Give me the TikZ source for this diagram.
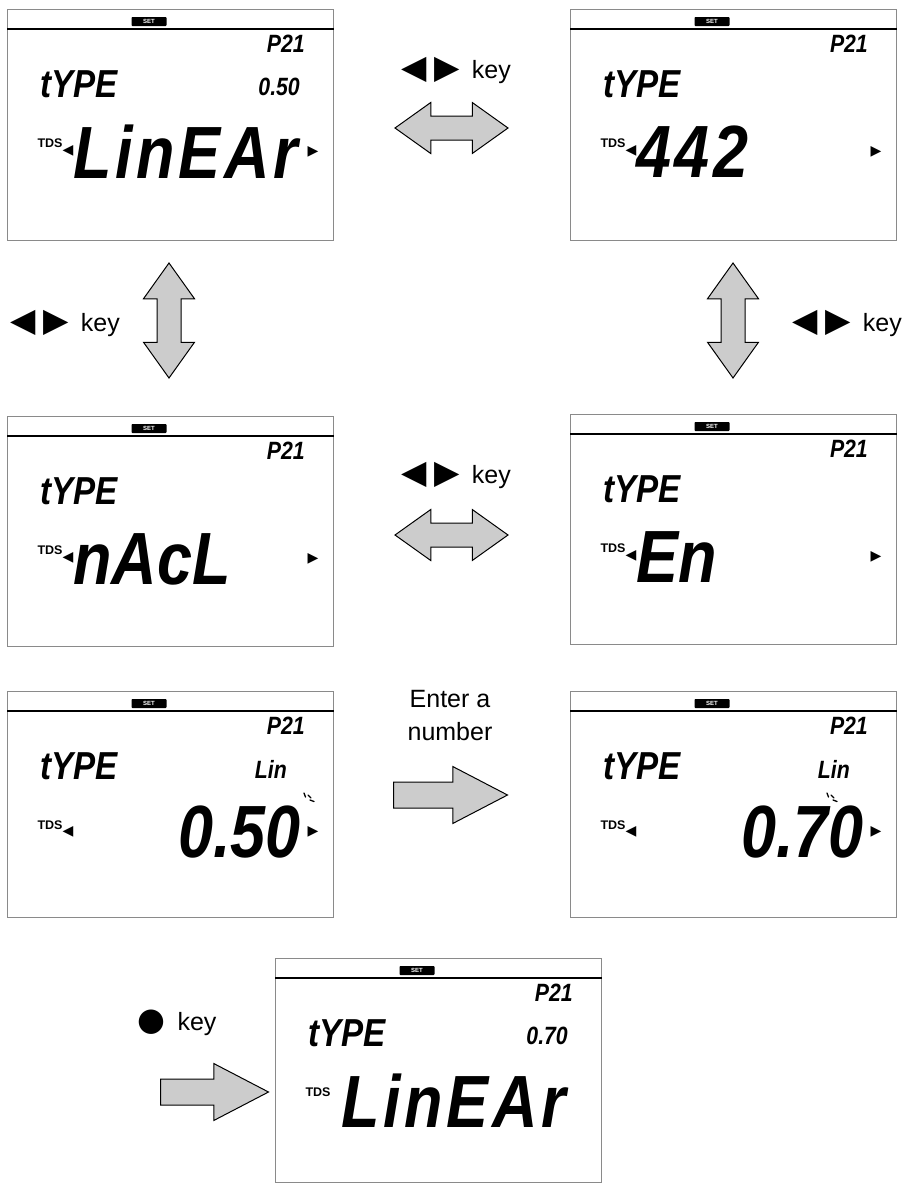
\documentclass[tikz,border=0pt]{standalone}
\usepackage{fontspec}
\setmainfont{Liberation Sans}
\newfontfamily\lcdfont[FakeStretch=0.85]{Liberation Sans}
\newfontfamily\symfont{DejaVu Sans}
\usetikzlibrary{shapes.arrows,positioning,calc}
\definecolor{scrframe}{HTML}{8A8A8A}
\definecolor{arrowgray}{HTML}{CCCCCC}
\tikzset{
  screen/.style={rectangle,draw=scrframe,line width=1pt,minimum width=326pt,
                 inner sep=0pt,anchor=north west},
  setbox/.style={rectangle,rounded corners=0.8pt,fill=black,text=white,minimum width=35pt,
                 minimum height=9pt,inner sep=0pt,font=\fontsize{6}{6}\selectfont\bfseries},
  sepline/.style={line width=1.6pt,draw=black},
  lcdbig/.style={inner sep=0pt,font=\lcdfont\fontsize{74}{74}\selectfont\bfseries\itshape},
  lcdmid/.style={inner sep=0pt,font=\lcdfont\fontsize{39}{39}\selectfont\bfseries\itshape},
  lcdsmall/.style={inner sep=0pt,font=\lcdfont\fontsize{25}{25}\selectfont\bfseries\itshape},
  tds/.style={inner sep=0pt,font=\fontsize{12.5}{12.5}\selectfont\bfseries},
  ind/.style={inner sep=0pt,font=\symfont\fontsize{14}{14}\selectfont},
  blink/.style={line width=1.3pt,line cap=round},
  dblarrow/.style={double arrow,draw=black,fill=arrowgray,line width=1pt,inner xsep=0pt,
                   inner ysep=11.5pt,double arrow head extend=13.5pt,double arrow tip angle=71,
                   minimum height=113pt},
  fwdarrow/.style={single arrow,draw=black,fill=arrowgray,line width=1pt,inner xsep=0pt,
                   inner ysep=12.5pt,single arrow head extend=15.5pt,single arrow tip angle=55,
                   minimum height=114pt,anchor=tail},
  keylabel/.style={inner sep=0pt,align=center,font=\fontsize{25}{33}\selectfont},
}
% left/right keys and the measure key
\newcommand{\lrkeys}{{\symfont\fontsize{33}{33}\selectfont ◀\hspace{8pt}▶}}
\newcommand{\okkey}{{\symfont\fontsize{32}{32}\selectfont ●}}
% display frame: SET, P21, tYPE, TDS
\newcommand{\lcdframe}[3]{%
  \node[screen,minimum height=#3] (#1) at (#2) {};
  \node[setbox] (#1-set) at ($(#1.north west)+(142,12.5)$) {SET};
  \draw[sepline] ($(#1.north west)+(0,20)$) -- ($(#1.north east)+(0,20)$);
  \node[lcdsmall,anchor=east] (#1-prm) at ($(#1.north west)+(298,35)$) {P21};
  \node[lcdmid,anchor=west] (#1-type) at ($(#1.north west)+(33,75)$) {tYPE};
  \node[tds] (#1-tds) at ($(#1.north west)+(43,134)$) {TDS};
}

\begin{document}
\begin{tikzpicture}[x=1pt,y=-1pt]
  \useasboundingbox[fill=white] (0,0) rectangle (910,1183);

  % row 1
  \lcdframe{s1}{7,9}{231pt}
  \node[ind] (s1-l) at ($(s1.north west)+(61,142)$) {◀};
  \node[lcdbig,anchor=west] (s1-val) at ($(s1.north west)+(66,143)$)
    {\addfontfeature{LetterSpace=5}LinEAr};
  \node[lcdsmall,anchor=east] (s1-fac) at ($(s1.north west)+(293,78)$) {0.50};
  \node[ind] (s1-r) at ($(s1.north west)+(306,143)$) {▶};

  \lcdframe{s2}{570,9}{231pt}
  \node[ind] (s2-l) at ($(s2.north west)+(61,142)$) {◀};
  \node[lcdbig,anchor=west] (s2-val) at ($(s2.north west)+(66,143)$)
    {\addfontfeature{LetterSpace=5}442};
  \node[ind] (s2-r) at ($(s2.north west)+(306,143)$) {▶};

  % row 2
  \lcdframe{s3}{7,416}{230pt}
  \node[ind] (s3-l) at ($(s3.north west)+(61,142)$) {◀};
  \node[lcdbig,anchor=west] (s3-val) at ($(s3.north west)+(66,143)$) {nAcL};
  \node[ind] (s3-r) at ($(s3.north west)+(306,143)$) {▶};

  \lcdframe{s4}{570,414}{230pt}
  \node[ind] (s4-l) at ($(s4.north west)+(61,142)$) {◀};
  \node[lcdbig,anchor=west] (s4-val) at ($(s4.north west)+(66,143)$) {En};
  \node[ind] (s4-r) at ($(s4.north west)+(306,143)$) {▶};

  % row 3
  \lcdframe{s5}{7,691}{226pt}
  \node[ind] (s5-l) at ($(s5.north west)+(61,141)$) {◀};
  \node[lcdsmall,anchor=east] (s5-mode) at ($(s5.north west)+(280,78)$) {Lin};
  \node[lcdbig,anchor=east] (s5-val) at ($(s5.north west)+(294,141)$) {0.50};
  \node[ind] (s5-r) at ($(s5.north west)+(306,141)$) {▶};
  \draw[blink] ($(s5.north west)+(297,102)$) -- ++(1.5,4);
  \draw[blink] ($(s5.north west)+(301,104)$) -- ++(3,3);
  \draw[blink] ($(s5.north west)+(303,109)$) -- ++(4,1.5);

  \lcdframe{s6}{570,691}{226pt}
  \node[ind] (s6-l) at ($(s6.north west)+(61,141)$) {◀};
  \node[lcdsmall,anchor=east] (s6-mode) at ($(s6.north west)+(280,78)$) {Lin};
  \node[lcdbig,anchor=east] (s6-val) at ($(s6.north west)+(294,141)$) {0.70};
  \node[ind] (s6-r) at ($(s6.north west)+(306,141)$) {▶};
  \draw[blink] ($(s6.north west)+(257,102)$) -- ++(1.5,4);
  \draw[blink] ($(s6.north west)+(261,104)$) -- ++(3,3);
  \draw[blink] ($(s6.north west)+(263,109)$) -- ++(4,1.5);

  % result
  \lcdframe{s7}{275,958}{224pt}
  \node[lcdsmall,anchor=east] (s7-fac) at ($(s7.north west)+(293,78)$) {0.70};
  \node[lcdbig,anchor=west] (s7-val) at ($(s7.north west)+(66,143)$)
    {\addfontfeature{LetterSpace=5}LinEAr};

  % key arrows
  \node[dblarrow] (a12) at (451.5,128) {};
  \node[keylabel] (k12) at (456,70) {\lrkeys\hspace{12pt}key};
  \node[dblarrow,rotate=90,minimum height=115pt] (a13) at (169,320.5) {};
  \node[keylabel] (k13) at (65,323) {\lrkeys\hspace{12pt}key};
  \node[dblarrow,rotate=90,minimum height=115pt] (a24) at (733,320.5) {};
  \node[keylabel] (k24) at (847,323) {\lrkeys\hspace{12pt}key};
  \node[dblarrow] (a34) at (451.5,535) {};
  \node[keylabel] (k34) at (456,475) {\lrkeys\hspace{12pt}key};
  \node[fwdarrow] (a56) at (393,795) {};
  \node[keylabel] (k56) at (450,716) {Enter a\\number};
  \node[fwdarrow,minimum height=108pt] (a67) at (160,1092) {};
  \node[keylabel] (k67) at (177,1023) {\okkey\hspace{12pt}key};
\end{tikzpicture}
\end{document}
